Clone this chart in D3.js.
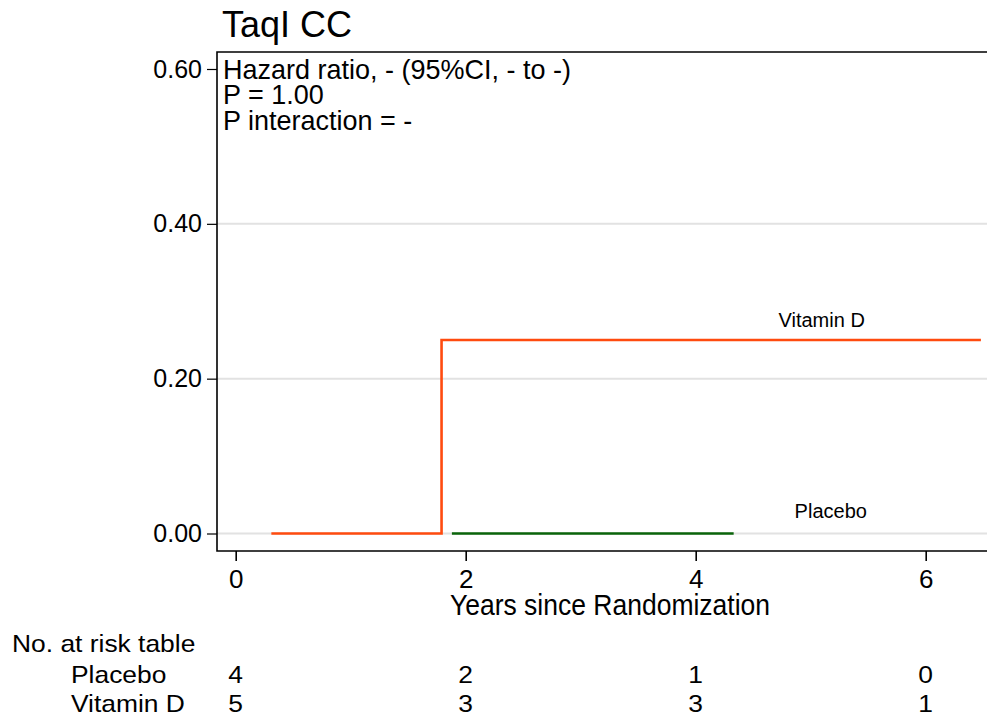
<!DOCTYPE html>
<meta charset="utf-8">
<style>
  body { margin: 0; background: #fff; }
  svg text { font-family: "Liberation Sans", Arial, Helvetica, sans-serif; fill: #000; }
</style>
<script src="https://d3js.org/d3.v7.min.js"></script>
<div id="chart"></div>
<script>

// cumulative incidence steps (years, proportion)
var vitDTime = [0.31, 1.79, 6.48];
var vitDRisk = [0, 0.25, 0.25];
var placeboTime = [1.88, 4.33];
var placeboRisk = [0, 0];

// y ticks and x ticks
var yTicks = [0, 0.2, 0.4, 0.6];
var gridTicks = [0, 0.2, 0.4];
var xTicks = [0, 2, 4, 6];

// number at risk at each x tick
var riskGroups = ["Placebo", "Vitamin D"];
var placeboAtRisk = [4, 2, 1, 0];
var vitDAtRisk = [5, 3, 3, 1];

var width = 987, height = 720;
var frame = {left: 217, top: 52, bottom: 551, right: 1000};

var svg = d3.select("#chart").append("svg")
    .attr("width", width)
    .attr("height", height);

var x = d3.scaleLinear().domain([0, 6]).range([235.7, 925.7]);
var y = d3.scaleLinear().domain([0, 0.6]).range([533.5, 69]);

// text with optional stretch
function label(xp, yp, txt, size, anchor, sx, sy) {
  return svg.append("text")
    .attr("transform", "translate(" + xp + "," + yp + ") scale(" + (sx || 1) + "," + (sy || 1) + ")")
    .attr("text-anchor", anchor || "start")
    .style("font-size", size + "px")
    .text(txt);
}

// grid lines
svg.append("g").selectAll("line")
  .data(gridTicks)
  .enter().append("line")
    .attr("x1", frame.left).attr("x2", width)
    .attr("y1", function(d) { return y(d); })
    .attr("y2", function(d) { return y(d); })
    .attr("stroke", "#e2e2e2")
    .attr("stroke-width", 2);

// plot region border (open on the right, runs off the page)
svg.append("path")
  .attr("d", "M" + frame.right + "," + frame.top + "H" + frame.left + "V" + frame.bottom + "H" + frame.right)
  .attr("fill", "none")
  .attr("stroke", "#000")
  .attr("stroke-width", 1.6);

// y axis
var yAxis = svg.append("g")
  .attr("transform", "translate(" + frame.left + ",0)")
  .call(d3.axisLeft(y).tickValues(yTicks).tickFormat(d3.format(".2f")).tickSize(10).tickPadding(5));
yAxis.select(".domain").remove();
yAxis.selectAll("text").style("font-size", "25px").attr("font-family", null);
yAxis.selectAll(".tick line").attr("stroke-width", 1.2);

// x axis
var xAxis = svg.append("g")
  .attr("transform", "translate(0," + frame.bottom + ")")
  .call(d3.axisBottom(x).tickValues(xTicks).tickFormat(d3.format("d")).tickSize(10).tickPadding(9));
xAxis.select(".domain").remove();
xAxis.selectAll("text").style("font-size", "26px").attr("font-family", null);
xAxis.selectAll(".tick line").attr("stroke-width", 1.6);

// step curves
var line = d3.line()
  .x(function(d) { return x(d[0]); })
  .y(function(d) { return y(d[1]); })
  .curve(d3.curveStepAfter);

svg.append("path")
  .datum(d3.zip(vitDTime, vitDRisk))
  .attr("d", line)
  .attr("fill", "none")
  .attr("stroke", "#ff4b0f")
  .attr("stroke-width", 2.6);

svg.append("path")
  .datum(d3.zip(placeboTime, placeboRisk))
  .attr("d", line)
  .attr("fill", "none")
  .attr("stroke", "#0a640a")
  .attr("stroke-width", 2.6);

// curve labels
label(x(4.72), y(0.25) - 13, "Vitamin D", 20);
label(x(4.86), y(0) - 16, "Placebo", 20);

// title and annotation
label(222, 37, "TaqI CC", 36);
label(223, 79, "Hazard ratio, - (95%CI, - to -)", 27, "start", 1, 1.05);
label(223, 104, "P = 1.00", 27, "start", 1, 1.05);
label(223, 130, "P interaction = -", 27, "start", 1, 1.05);

// x axis title
label(610, 615, "Years since Randomization", 26.5, "middle", 1, 1.08);

// number at risk table
label(12, 652, "No. at risk table", 24, "start", 1.1, 1);
var rows = [placeboAtRisk, vitDAtRisk];
var rowY = [683, 712];
rows.forEach(function(vals, i) {
  label(71, rowY[i], riskGroups[i], 24, "start", 1.1, 1);
  xTicks.forEach(function(t, j) {
    label(x(t), rowY[i], vals[j], 24, "middle", 1.1, 1);
  });
});

</script>
